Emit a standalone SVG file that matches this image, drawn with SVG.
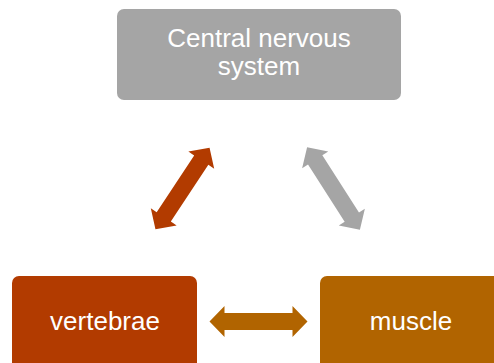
<svg xmlns="http://www.w3.org/2000/svg" width="494" height="363" viewBox="0 0 494 363">
<style>
.lbl{font-family:"Liberation Sans",Arial,sans-serif;font-size:26px;fill:#ffffff;text-anchor:middle}
</style>
<defs>
<polygon id="dbl" points="-49,0 -34,-15.5 -34,-8.5 34,-8.5 34,-15.5 49,0 34,15.5 34,8.5 -34,8.5 -34,15.5"/>
</defs>
<rect width="494" height="363" fill="#ffffff"/>
<g id="cns">
<rect x="117" y="9" width="284" height="91" rx="7" fill="#A5A5A5"/>
<text class="lbl" x="259" y="47">Central nervous</text>
<text class="lbl" x="259" y="75">system</text>
</g>
<g id="vertebrae">
<rect x="12" y="276" width="185" height="100" rx="7" fill="#B23B00"/>
<text class="lbl" x="105" y="330">vertebrae</text>
</g>
<g id="muscle">
<rect x="320" y="276" width="185" height="100" rx="7" fill="#B16400"/>
<text class="lbl" x="411" y="330">muscle</text>
</g>
<g id="connectors">
<use href="#dbl" fill="#B23B00" transform="translate(182.5,188.5) rotate(-56.5)"/>
<use href="#dbl" fill="#A5A5A5" transform="translate(333.5,188.5) rotate(57.4)"/>
<use href="#dbl" fill="#B16400" transform="translate(258.5,321.5)"/>
</g>
</svg>
